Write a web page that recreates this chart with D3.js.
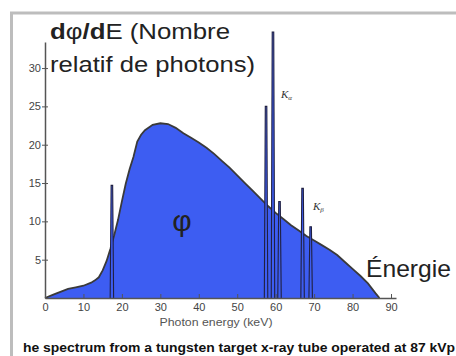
<!DOCTYPE html>
<html>
<head>
<meta charset="utf-8">
<script src="https://cdn.jsdelivr.net/npm/d3@7"></script>
<style>
  body { margin: 0; background: #fff; }
  text { font-family: "Liberation Sans", Arial, sans-serif; }
</style>
</head>
<body>
<div id="chart"></div>
<script>
// continuous bremsstrahlung spectrum (keV, relative photon number)
const energies = [0, 2, 4, 6, 8, 10, 12, 13, 14, 15, 16, 17, 18, 19, 20, 21, 22, 23, 24, 25, 26, 28, 30, 32, 34, 36, 38, 40, 42, 44, 46, 48, 50, 52, 54, 56, 58, 60, 62, 64, 66, 68, 70, 72, 74, 76, 78, 80, 82, 84, 86, 87];
const counts   = [0, 0.4, 0.8, 1.2, 1.4, 1.6, 2.0, 2.3, 2.7, 3.6, 4.8, 6.4, 8.2, 10.2, 12.6, 14.9, 16.8, 18.4, 20.4, 21.3, 21.9, 22.6, 22.8, 22.7, 22.2, 21.5, 20.9, 20.3, 19.6, 18.8, 17.9, 17.0, 16.0, 15.0, 14.0, 13.0, 12.0, 11.1, 10.3, 9.5, 8.8, 8.1, 7.5, 6.9, 6.3, 5.6, 4.7, 3.8, 2.9, 1.9, 0.6, 0];

// characteristic lines (L, K-alpha 2, K-alpha 1, ..., K-beta)
const lineEnergies = [17.4, 57.5, 59.3, 61.0, 67.0, 69.1];
const lineHeights  = [14.7, 25.0, 34.7, 12.6, 14.3, 9.3];

const xTicks = [0, 10, 20, 30, 40, 50, 60, 70, 80, 90];
const yTicks = [5, 10, 15, 20, 25, 30];

const W = 456, H = 356;
const blue = "#3d5df2";

const svg = d3.select("#chart").append("svg")
  .attr("width", W)
  .attr("height", H);

// frame of the slide
svg.append("line").attr("x1", 10).attr("x2", W).attr("y1", 13).attr("y2", 13)
  .attr("stroke", "#bdbdbd").attr("stroke-width", 3);
svg.append("line").attr("x1", 11.5).attr("x2", 11.5).attr("y1", 12).attr("y2", H)
  .attr("stroke", "#bdbdbd").attr("stroke-width", 3);

const x = d3.scaleLinear().domain([0, 91.3]).range([45, 396]);
const y = d3.scaleLinear().domain([0, 33.4]).range([298, 42]);

const spectrum = energies.map((e, i) => ({e: e, v: counts[i]}));

// filled spectrum
svg.append("path")
  .datum(spectrum)
  .attr("fill", blue)
  .attr("d", d3.area().x(d => x(d.e)).y0(y(0)).y1(d => y(d.v)));

svg.append("path")
  .datum(spectrum)
  .attr("fill", "none")
  .attr("stroke", "#3a3a3a")
  .attr("stroke-width", 1.8)
  .attr("d", d3.line().x(d => x(d.e)).y(d => y(d.v)));

// characteristic peaks
const peak = d3.line().x(d => x(d[0])).y(d => y(d[1]));
lineEnergies.forEach((e, i) => {
  const h = lineHeights[i];
  svg.append("path")
    .attr("fill", blue)
    .attr("stroke", "#202040")
    .attr("stroke-width", 1.1)
    .attr("d", peak([[e - 0.45, 0], [e - 0.2, h], [e + 0.2, h], [e + 0.45, 0]]));
});

// axes
const xAxis = svg.append("g")
  .attr("transform", `translate(0,${y(0)})`)
  .call(d3.axisBottom(x).tickValues(xTicks).tickSizeInner(-4).tickSizeOuter(0).tickPadding(5));
const yAxis = svg.append("g")
  .attr("transform", `translate(${x(0)},0)`)
  .call(d3.axisLeft(y).tickValues(yTicks).tickSizeInner(-4).tickSizeOuter(0).tickPadding(4));

[xAxis, yAxis].forEach(g => {
  g.select(".domain").attr("stroke", "#555").attr("stroke-width", 1.5);
  g.selectAll(".tick line").attr("stroke", "#555");
  g.selectAll(".tick text")
    .attr("fill", "#444")
    .style("font-size", "11px")
    .style("font-family", "'Liberation Sans', Arial, sans-serif");
});
yAxis.selectAll(".tick line").attr("x1", -3).attr("x2", 3);
yAxis.selectAll(".tick text").attr("x", -4);

svg.append("text")
  .attr("x", 216).attr("y", 326)
  .attr("text-anchor", "middle")
  .attr("fill", "#555")
  .style("font-size", "10px")
  .attr("textLength", 113).attr("lengthAdjust", "spacingAndGlyphs")
  .text("Photon energy (keV)");

// title
const t1 = svg.append("text")
  .attr("x", 50).attr("y", 39)
  .attr("fill", "#222")
  .style("font-size", "22px")
  .attr("textLength", 180).attr("lengthAdjust", "spacingAndGlyphs");
t1.append("tspan").style("font-weight", "bold").text("d");
t1.append("tspan").text("φ");
t1.append("tspan").style("font-weight", "bold").text("/d");
t1.append("tspan").text("E (Nombre");

svg.append("text")
  .attr("x", 50).attr("y", 72)
  .attr("fill", "#222")
  .style("font-size", "22px")
  .attr("textLength", 205).attr("lengthAdjust", "spacingAndGlyphs")
  .text("relatif de photons)");

svg.append("text")
  .attr("x", 182).attr("y", 231)
  .attr("text-anchor", "middle")
  .attr("fill", "#222")
  .style("font-size", "30px")
  .text("φ");

svg.append("text")
  .attr("x", 366).attr("y", 277)
  .attr("fill", "#222")
  .style("font-size", "24px")
  .attr("textLength", 85).attr("lengthAdjust", "spacingAndGlyphs")
  .text("Énergie");

// line labels
const ka = svg.append("text")
  .attr("x", 281).attr("y", 98)
  .attr("fill", "#333")
  .style("font-size", "11px").style("font-style", "italic")
  .style("font-family", "'Liberation Serif', serif");
ka.append("tspan").text("K");
ka.append("tspan").attr("dy", 2).style("font-size", "7px").text("α");

const kb = svg.append("text")
  .attr("x", 313).attr("y", 210)
  .attr("fill", "#333")
  .style("font-size", "11px").style("font-style", "italic")
  .style("font-family", "'Liberation Serif', serif");
kb.append("tspan").text("K");
kb.append("tspan").attr("dy", 2).style("font-size", "7px").text("β");

// caption
svg.append("text")
  .attr("x", 23).attr("y", 352)
  .attr("fill", "#111")
  .style("font-size", "12px").style("font-weight", "bold")
  .attr("textLength", 432).attr("lengthAdjust", "spacingAndGlyphs")
  .text("he spectrum from a tungsten target x-ray tube operated at 87 kVp");
</script>
</body>
</html>
